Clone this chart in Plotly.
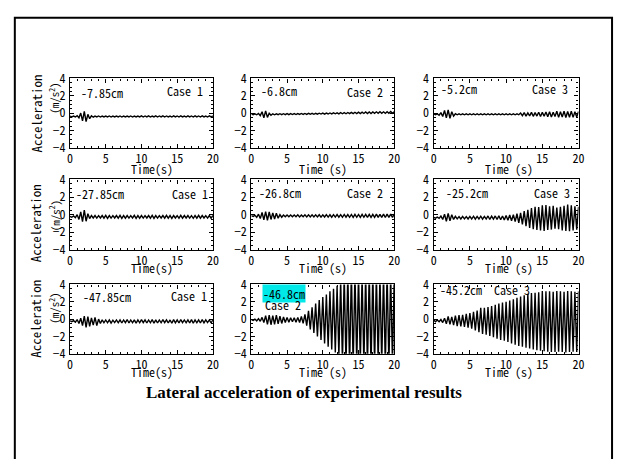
import plotly.graph_objects as go

W, H = 621, 459

# ---------------- data (peak values, m/s^2) ----------------
# up[i] : positive-going peak at t = 0.5*i  (41 values, 0..20 s)
# lo[i] : negative-going peak at t = 0.5*i + 0.25 (40 values)
depth_labels = ["-7.85cm", "-6.8cm", "-5.2cm",
                "-27.85cm", "-26.8cm", "-25.2cm",
                "-47.85cm", "-46.8cm", "-45.2cm"]
case_labels = ["Case 1", "Case 2", "Case 3"] * 3
x_tick_vals = [0, 5, 10, 15, 20]
y_tick_vals = [-4, -2, 0, 2, 4]

p1_up = [-0.35, -0.35, -0.30, 0.00, 0.20, -0.15, -0.32, -0.35, -0.34, -0.35,
         -0.35, -0.34, -0.35, -0.35, -0.34, -0.35, -0.35, -0.34, -0.35, -0.35,
         -0.33, -0.34, -0.33, -0.35, -0.33, -0.34, -0.33, -0.34, -0.35, -0.33,
         -0.34, -0.33, -0.35, -0.33, -0.34, -0.33, -0.34, -0.33, -0.35, -0.33, -0.34]
p1_lo = [-0.45, -0.45, -0.55, -0.90, -1.00, -0.65, -0.48, -0.45, -0.46, -0.45,
         -0.45, -0.46, -0.45, -0.45, -0.46, -0.45, -0.45, -0.46, -0.45, -0.45,
         -0.46, -0.45, -0.46, -0.45, -0.46, -0.45, -0.46, -0.45, -0.46, -0.45,
         -0.46, -0.45, -0.46, -0.45, -0.46, -0.45, -0.46, -0.45, -0.46, -0.45]

p2_up = [-0.10, -0.10, -0.05, 0.15, 0.25, -0.02, -0.09, -0.09, -0.08, -0.08,
         -0.07, -0.07, -0.06, -0.06, -0.05, -0.05, -0.04, -0.03, -0.03, -0.02,
         -0.01, 0.00, 0.01, 0.02, 0.03, 0.04, 0.05, 0.06, 0.08, 0.09,
         0.10, 0.10, 0.12, 0.13, 0.12, 0.14, 0.15, 0.14, 0.16, 0.17, 0.16]
p2_lo = [-0.20, -0.20, -0.30, -0.55, -0.50, -0.25, -0.20, -0.19, -0.19, -0.18,
         -0.18, -0.17, -0.17, -0.16, -0.16, -0.15, -0.14, -0.14, -0.13, -0.12,
         -0.12, -0.11, -0.10, -0.09, -0.09, -0.08, -0.08, -0.07, -0.07, -0.06,
         -0.06, -0.05, -0.05, -0.05, -0.04, -0.04, -0.03, -0.04, -0.03, -0.03]

p3_up = [-0.10, -0.10, 0.05, 0.30, 0.35, 0.15, -0.08, -0.10, -0.10, -0.10,
         -0.10, -0.10, -0.10, -0.10, -0.10, -0.10, -0.10, -0.10, -0.10, -0.10,
         -0.10, -0.10, -0.10, -0.10, 0.00, 0.05, 0.02, 0.08, 0.05, 0.10,
         0.08, 0.12, 0.15, 0.10, 0.20, 0.15, 0.22, 0.18, 0.20, 0.15, 0.18]
p3_lo = [-0.20, -0.25, -0.40, -0.55, -0.60, -0.35, -0.20, -0.20, -0.20, -0.20,
         -0.20, -0.20, -0.20, -0.20, -0.20, -0.20, -0.20, -0.20, -0.20, -0.20,
         -0.20, -0.20, -0.20, -0.20, -0.30, -0.35, -0.32, -0.38, -0.35, -0.40,
         -0.38, -0.42, -0.45, -0.40, -0.50, -0.45, -0.52, -0.48, -0.50, -0.45]

p4_up = [-0.20, -0.15, 0.00, 0.30, 0.50, 0.10, -0.10, -0.10, -0.12, -0.10,
         -0.08, -0.10, -0.12, -0.10, -0.08, -0.10, -0.10, -0.12, -0.08, -0.10,
         -0.10, -0.12, -0.10, -0.08, -0.10, -0.12, -0.10, -0.08, -0.10, -0.10,
         -0.12, -0.08, -0.10, -0.10, -0.12, -0.10, -0.08, -0.10, -0.12, -0.10, -0.10]
p4_lo = [-0.30, -0.35, -0.55, -0.80, -0.75, -0.45, -0.38, -0.40, -0.38, -0.40,
         -0.42, -0.40, -0.38, -0.40, -0.42, -0.40, -0.40, -0.38, -0.42, -0.40,
         -0.40, -0.38, -0.40, -0.42, -0.40, -0.38, -0.40, -0.40, -0.42, -0.38,
         -0.40, -0.40, -0.38, -0.40, -0.42, -0.40, -0.40, -0.38, -0.40, -0.40]

p5_up = [-0.10, -0.08, 0.05, 0.25, 0.35, 0.30, 0.20, 0.15, 0.00, -0.05,
         -0.05, -0.04, -0.05, -0.03, -0.04, -0.03, -0.02, -0.03, -0.02, -0.01,
         -0.02, 0.00, -0.01, 0.00, 0.01, 0.00, 0.02, 0.01, 0.02, 0.03,
         0.02, 0.03, 0.04, 0.03, 0.04, 0.05, 0.04, 0.05, 0.06, 0.05, 0.06]
p5_lo = [-0.20, -0.30, -0.45, -0.60, -0.65, -0.55, -0.50, -0.40, -0.30, -0.25,
         -0.25, -0.24, -0.25, -0.26, -0.25, -0.26, -0.27, -0.26, -0.27, -0.28,
         -0.27, -0.28, -0.29, -0.28, -0.29, -0.30, -0.29, -0.30, -0.31, -0.30,
         -0.31, -0.30, -0.32, -0.31, -0.30, -0.32, -0.31, -0.33, -0.32, -0.31]

p6_up = [-0.30, -0.28, -0.15, 0.05, 0.15, 0.00, -0.20, -0.22, -0.20, -0.22,
         -0.20, -0.18, -0.20, -0.18, -0.20, -0.15, -0.18, -0.15, -0.12, -0.15,
         -0.10, -0.05, 0.00, 0.10, 0.20, 0.40, 0.55, 0.75, 0.90, 0.85,
         1.05, 1.10, 0.95, 1.00, 0.80, 0.90, 1.00, 1.15, 1.05, 0.95, 0.90]
p6_lo = [-0.40, -0.42, -0.55, -0.75, -0.70, -0.55, -0.48, -0.50, -0.48, -0.50,
         -0.50, -0.52, -0.50, -0.52, -0.50, -0.55, -0.52, -0.55, -0.58, -0.60,
         -0.65, -0.70, -0.80, -0.95, -1.10, -1.30, -1.50, -1.65, -1.75, -1.80,
         -1.85, -1.75, -1.70, -1.60, -1.65, -1.80, -1.85, -1.90, -1.80, -1.70]

p7_up = [-0.20, -0.18, -0.05, 0.10, 0.35, 0.30, 0.15, 0.20, 0.00, -0.08,
         -0.10, -0.08, -0.12, -0.10, -0.08, -0.10, -0.05, -0.10, -0.08, -0.10,
         -0.05, -0.08, -0.10, -0.06, -0.08, -0.10, -0.05, -0.08, -0.10, -0.06,
         -0.08, -0.05, -0.10, -0.08, -0.06, -0.10, -0.08, -0.05, -0.08, -0.10, -0.08]
p7_lo = [-0.30, -0.35, -0.50, -0.75, -0.95, -0.85, -0.70, -0.75, -0.50, -0.42,
         -0.42, -0.45, -0.40, -0.42, -0.45, -0.40, -0.45, -0.42, -0.48, -0.42,
         -0.40, -0.45, -0.42, -0.48, -0.45, -0.42, -0.40, -0.45, -0.48, -0.42,
         -0.45, -0.40, -0.42, -0.45, -0.48, -0.42, -0.45, -0.42, -0.40, -0.45]

p8_up = [-0.05, 0.00, 0.05, 0.20, 0.40, 0.45, 0.40, 0.45, 0.35, 0.25,
         0.20, 0.15, 0.15, 0.20, 0.30, 0.55, 0.95, 1.35, 1.80, 2.20,
         2.55, 2.85, 3.20, 3.50, 3.85, 4.60, 5.20, 5.50, 5.60, 5.40,
         5.20, 5.00, 5.30, 5.60, 5.50, 5.20, 5.00, 5.30, 5.50, 5.20, 5.00]
p8_lo = [-0.15, -0.20, -0.25, -0.40, -0.60, -0.65, -0.60, -0.55, -0.50, -0.40,
         -0.35, -0.30, -0.35, -0.40, -0.50, -0.75, -1.20, -1.60, -2.00, -2.40,
         -2.80, -3.20, -3.50, -3.85, -4.30, -5.00, -5.40, -5.60, -5.50, -5.20,
         -5.00, -5.30, -5.50, -5.60, -5.30, -5.00, -5.20, -5.50, -5.40, -5.10]

p9_up = [-0.10, -0.10, -0.05, 0.10, 0.30, 0.25, 0.40, 0.45, 0.50, 0.60,
         0.70, 0.85, 1.00, 1.30, 1.30, 1.40, 1.50, 1.65, 1.80, 1.90,
         2.00, 2.15, 2.30, 2.45, 2.60, 2.75, 2.90, 3.00, 3.05, 3.10,
         3.25, 3.20, 3.20, 3.15, 3.25, 3.20, 3.15, 3.25, 3.20, 3.15, 3.20]
p9_lo = [-0.30, -0.30, -0.40, -0.55, -0.60, -0.70, -0.80, -0.85, -0.90, -1.00,
         -1.10, -1.30, -1.50, -1.70, -1.80, -1.95, -2.10, -2.25, -2.40, -2.50,
         -2.65, -2.80, -2.95, -3.10, -3.20, -3.30, -3.40, -3.50, -3.60, -3.65,
         -3.70, -3.75, -3.80, -3.80, -3.75, -3.80, -3.85, -3.80, -3.75, -3.80]

panels_up = [p1_up, p2_up, p3_up, p4_up, p5_up, p6_up, p7_up, p8_up, p9_up]
panels_lo = [p1_lo, p2_lo, p3_lo, p4_lo, p5_lo, p6_lo, p7_lo, p8_lo, p9_lo]
PEAK_STEP = 0.5

# ---------------- layout geometry (pixels) ----------------
col_px = [(68, 213), (252, 397), (437, 584)]
row_px = [(71, 143), (176, 249), (285, 357)]


def px(x):
    return x / W


def py(y):
    return 1 - y / H


MONO = "'Noto Sans Mono CJK JP', 'Noto Sans Mono CJK SC', 'Liberation Mono', monospace"

fig = go.Figure()
layout = dict(
    width=W, height=H,
    margin=dict(l=0, r=0, t=0, b=0),
    paper_bgcolor="white", plot_bgcolor="white",
    showlegend=False,
    font=dict(family=MONO, size=12, color="black"),
)

for k in range(9):
    r, c = divmod(k, 3)
    up, lo = panels_up[k], panels_lo[k]
    xs, ys = [], []
    for i, u in enumerate(up):
        xs.append(i * PEAK_STEP)
        ys.append(u)
        if i < len(lo):
            xs.append(i * PEAK_STEP + PEAK_STEP / 2)
            ys.append(lo[i])
    suffix = "" if k == 0 else str(k + 1)
    fig.add_trace(go.Scatter(x=xs, y=ys, mode="lines",
                             line=dict(color="black", width=1.4),
                             xaxis="x" + suffix, yaxis="y" + suffix,
                             hoverinfo="skip"))
    x0, x1 = col_px[c]
    y0, y1 = row_px[r]
    common = dict(showline=True, linecolor="black", linewidth=1.3, mirror="ticks",
                  ticks="inside", ticklen=4, tickwidth=1.2, tickcolor="black",
                  showgrid=False, zeroline=False,
                  tickfont=dict(family=MONO, size=12, color="black"))
    layout["xaxis" + suffix] = dict(
        common, domain=[px(x0), px(x1)], anchor="y" + suffix,
        range=[0, 20], tickvals=x_tick_vals, ticklabelstandoff=0,
        minor=dict(ticks="inside", dtick=1, ticklen=2, tickcolor="black"))
    layout["yaxis" + suffix] = dict(
        common, domain=[py(y1), py(y0)], anchor="x" + suffix,
        range=[-4, 4], tickvals=y_tick_vals, ticklabelstandoff=1,
        minor=dict(ticks="inside", dtick=0.5, ticklen=2, tickcolor="black"))

fig.update_layout(**layout)

ann = []
# depth labels (left) and case labels
depth_pos = [(77, 86), (260, 84), (442, 81), (72, 191), (258, 190), (447, 190),
             (79, 297), (263, 294), (441, 290)]
case_pos = [(205, 84, "right"), (388, 85, "right"), (575, 81, "right"),
            (210, 191, "right"), (388, 190, "right"), (577, 189, "right"),
            (209, 296, "right"), (284, 306, "center"), (496, 290, "left")]
for k in range(9):
    dx, dy = depth_pos[k]
    a = dict(x=px(dx), y=py(dy), xref="paper", yref="paper", text=depth_labels[k],
             showarrow=False, xanchor="left", yanchor="middle",
             font=dict(family=MONO, size=12, color="black"))
    if k == 7:
        a.update(bgcolor="#00E8E8", borderpad=0)
    ann.append(a)
    cx, cy, anc = case_pos[k]
    ann.append(dict(x=px(cx), y=py(cy), xref="paper", yref="paper", text=case_labels[k],
                    showarrow=False, xanchor=anc, yanchor="middle",
                    font=dict(family=MONO, size=12, color="black")))

# axis titles
time_titles = ["Time(s)", "Time (s)", "Time (s)"]
time_x = [151, 325, 513]
time_y = [165, 267, 375]
for r in range(3):
    for c in range(3):
        ann.append(dict(x=px(time_x[c]), y=py(time_y[r]), xref="paper", yref="paper",
                        text=time_titles[c], showarrow=False, xanchor="center",
                        yanchor="middle", font=dict(family=MONO, size=12, color="black")))
acc_y = [108, 222, 321]
unit_y = [92, 214, 310]
for r in range(3):
    ann.append(dict(x=px(33), y=py(acc_y[r]), xref="paper", yref="paper",
                    text="Acceleration", textangle=-90, showarrow=False,
                    xanchor="center", yanchor="middle",
                    font=dict(family=MONO, size=13, color="black")))
    ann.append(dict(x=px(52), y=py(unit_y[r]), xref="paper", yref="paper",
                    text="(m/s<sup>2</sup>)", textangle=-90, showarrow=False,
                    xanchor="center", yanchor="middle",
                    font=dict(family=MONO, size=11, color="black")))

ann.append(dict(x=px(305), y=py(397), xref="paper", yref="paper",
                text="<b>Lateral acceleration of experimental results</b>",
                showarrow=False, xanchor="center", yanchor="middle",
                font=dict(family="Liberation Serif, Times New Roman, serif", size=17,
                          color="black")))

fig.update_layout(
    annotations=ann,
    shapes=[dict(type="rect", xref="paper", yref="paper",
                 x0=px(12), x1=px(618), y0=-0.05, y1=py(8),
                 line=dict(color="black", width=2), fillcolor="rgba(0,0,0,0)")],
)

fig.write_html("out.html",
               config={"displayModeBar": False},
               post_script="document.body.style.margin='0';"
                           "document.body.style.overflow='hidden';")
